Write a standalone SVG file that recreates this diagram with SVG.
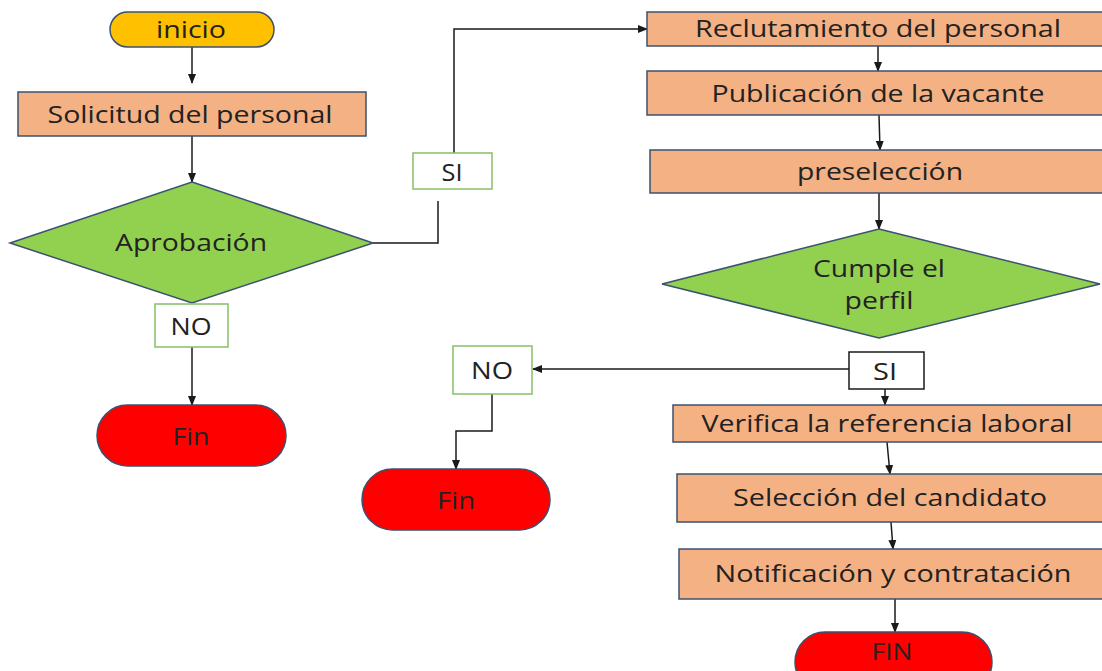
<svg xmlns="http://www.w3.org/2000/svg" width="1102" height="671" viewBox="0 0 1102 671">
<defs>
<marker id="ah" markerWidth="10" markerHeight="10" refX="9" refY="5" orient="auto" markerUnits="userSpaceOnUse">
<path d="M0,1 L10,5 L0,9 Z" fill="#1a1a1a"/>
</marker>
<style>
.proc{fill:#F4B183;stroke:#3B5170;stroke-width:1.5}
.dec{fill:#92D050;stroke:#3B5170;stroke-width:1.5}
.term{fill:#FF0000;stroke:#3B5170;stroke-width:1.5}
.start{fill:#FFC000;stroke:#3B5170;stroke-width:1.5}
.lbl{fill:#FFFFFF;stroke:#86C064;stroke-width:1.5}
.lblk{fill:#FFFFFF;stroke:#1a1a1a;stroke-width:1.5}
.t{font-family:"Open Sans","Noto Sans",sans-serif;font-size:24px;fill:#222222;text-anchor:middle;dominant-baseline:central}
.c{fill:none;stroke:#1a1a1a;stroke-width:1.5}
.ca{fill:none;stroke:#1a1a1a;stroke-width:1.5;marker-end:url(#ah)}
</style>
</defs>
<rect width="1102" height="671" fill="#FFFFFF"/>
<g id="connectors">
<line class="ca" x1="192" y1="47" x2="192" y2="83"/>
<line class="ca" x1="192" y1="136" x2="192" y2="182"/>
<line class="ca" x1="192" y1="347" x2="192" y2="405"/>
<polyline class="c" points="373,243 438,243 438,201"/>
<polyline class="ca" points="454,153 454,29 647,29"/>
<line class="ca" x1="878" y1="46" x2="878" y2="71"/>
<line class="ca" x1="879" y1="115" x2="880" y2="150"/>
<line class="ca" x1="879" y1="193" x2="879" y2="229"/>
<line class="ca" x1="849" y1="369" x2="533" y2="369"/>
<line class="ca" x1="885" y1="389" x2="885" y2="405"/>
<line class="ca" x1="887" y1="442" x2="890" y2="474"/>
<line class="ca" x1="891" y1="522" x2="893" y2="549"/>
<line class="ca" x1="895" y1="599" x2="895" y2="632"/>
<polyline class="ca" points="492,394 492,431 456,431 456,469"/>
</g>
<g id="inicio">
<rect class="start" x="110" y="12" width="164" height="35" rx="17.5"/>
<text class="t" x="191" y="28" textLength="70" lengthAdjust="spacingAndGlyphs">inicio</text>
</g>
<g id="solicitud">
<rect class="proc" x="18" y="92" width="348" height="44"/>
<text class="t" x="190" y="113" textLength="285" lengthAdjust="spacingAndGlyphs">Solicitud del personal</text>
</g>
<g id="aprobacion">
<polygon class="dec" points="192,182 373,243 192,303 10,243"/>
<text class="t" x="191" y="241" textLength="152" lengthAdjust="spacingAndGlyphs">Aprobación</text>
</g>
<g id="no1">
<rect class="lbl" x="155" y="304" width="73" height="43"/>
<text class="t" x="191" y="325" textLength="41" lengthAdjust="spacingAndGlyphs">NO</text>
</g>
<g id="fin1">
<rect class="term" x="97" y="405" width="189" height="61" rx="30.5"/>
<text class="t" x="191" y="435" textLength="37" lengthAdjust="spacingAndGlyphs">Fin</text>
</g>
<g id="si1">
<rect class="lbl" x="413" y="153" width="79" height="36"/>
<text class="t" x="452" y="171" textLength="21" lengthAdjust="spacingAndGlyphs">SI</text>
</g>
<g id="reclutamiento">
<rect class="proc" x="647" y="12" width="460" height="34"/>
<text class="t" x="878" y="27" textLength="366" lengthAdjust="spacingAndGlyphs">Reclutamiento del personal</text>
</g>
<g id="publicacion">
<rect class="proc" x="647" y="71" width="460" height="44"/>
<text class="t" x="878" y="92" textLength="333" lengthAdjust="spacingAndGlyphs">Publicación de la vacante</text>
</g>
<g id="preseleccion">
<rect class="proc" x="650" y="150" width="457" height="43"/>
<text class="t" x="880" y="170" textLength="166" lengthAdjust="spacingAndGlyphs">preselección</text>
</g>
<g id="cumple">
<polygon class="dec" points="879,229 1100,284 879,338 662,284"/>
<text class="t" x="879" y="267" textLength="132" lengthAdjust="spacingAndGlyphs">Cumple el</text>
<text class="t" x="879" y="299" textLength="69" lengthAdjust="spacingAndGlyphs">perfil</text>
</g>
<g id="si2">
<rect class="lblk" x="849" y="352" width="75" height="37"/>
<text class="t" x="885" y="370" textLength="24" lengthAdjust="spacingAndGlyphs">SI</text>
</g>
<g id="no2">
<rect class="lbl" x="453" y="346" width="79" height="48"/>
<text class="t" x="492" y="369" textLength="42" lengthAdjust="spacingAndGlyphs">NO</text>
</g>
<g id="fin2">
<rect class="term" x="362" y="469" width="188" height="61" rx="30.5"/>
<text class="t" x="456" y="499" textLength="38" lengthAdjust="spacingAndGlyphs">Fin</text>
</g>
<g id="verifica">
<rect class="proc" x="673" y="405" width="434" height="37"/>
<text class="t" x="887" y="422" textLength="371" lengthAdjust="spacingAndGlyphs">Verifica la referencia laboral</text>
</g>
<g id="seleccion">
<rect class="proc" x="677" y="474" width="430" height="48"/>
<text class="t" x="890" y="496" textLength="314" lengthAdjust="spacingAndGlyphs">Selección del candidato</text>
</g>
<g id="notificacion">
<rect class="proc" x="679" y="549" width="428" height="50"/>
<text class="t" x="893" y="572" textLength="357" lengthAdjust="spacingAndGlyphs">Notificación y contratación</text>
</g>
<g id="fin3">
<rect class="term" x="795" y="632" width="197" height="60" rx="30"/>
<text class="t" x="892" y="650" textLength="41" lengthAdjust="spacingAndGlyphs">FIN</text>
</g>
</svg>
